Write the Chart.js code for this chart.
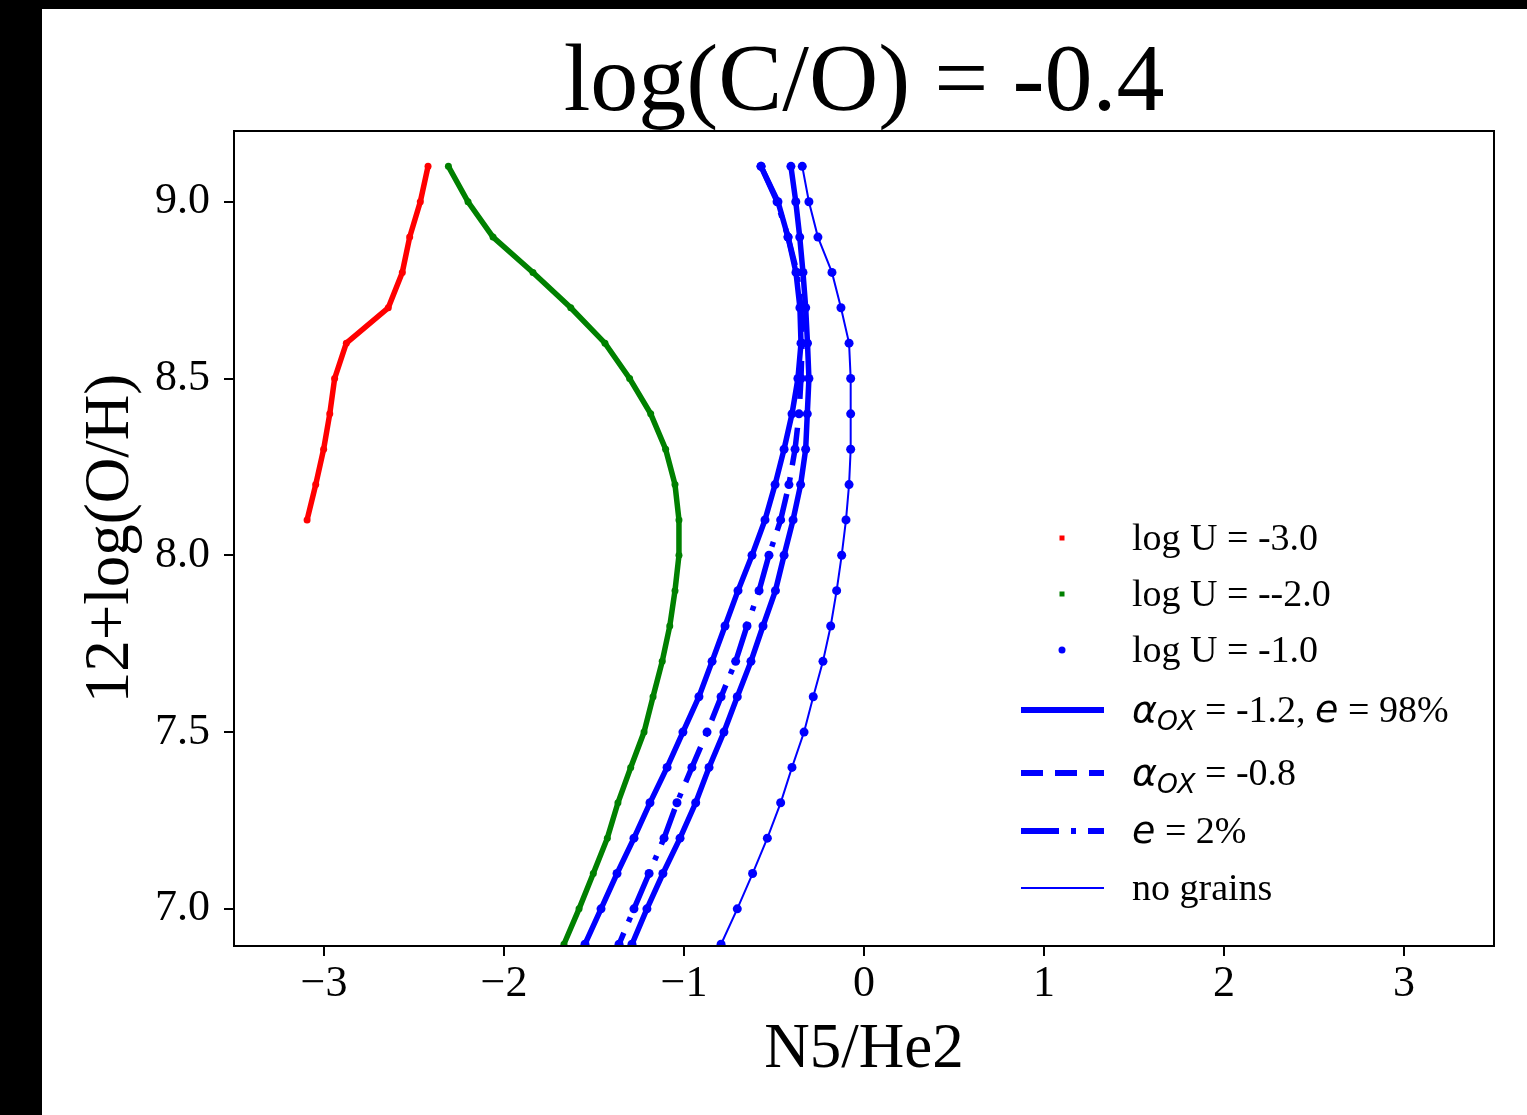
<!DOCTYPE html>
<html>
<head>
<meta charset="utf-8">
<script src="https://cdn.jsdelivr.net/npm/chart.js@4.4.0/dist/chart.umd.min.js"></script>
<style>
  html, body { margin: 0; padding: 0; background: #000; }
  #wrap { position: absolute; left: 42px; top: 9px; width: 1485px; height: 1106px; background: #fff; }
</style>
</head>
<body>
<div id="wrap"><canvas id="chart"></canvas></div>
<script>
// 12+log(O/H) grid of the models, top to bottom
const ohLevels = [9.1, 9.0, 8.9, 8.8, 8.7, 8.6, 8.5, 8.4, 8.3, 8.2, 8.1, 8.0,
                  7.9, 7.8, 7.7, 7.6, 7.5, 7.4, 7.3, 7.2, 7.1, 7.0, 6.9];

// N5/He2 values
const redX = [-2.422, -2.465, -2.524, -2.565, -2.643, -2.876, -2.941, -2.968, -3.002, -3.046, -3.094];
const greenX = [-2.309, -2.200, -2.061, -1.839, -1.629, -1.439, -1.302, -1.185, -1.102, -1.050, -1.028, -1.028,
                -1.050, -1.079, -1.121, -1.172, -1.222, -1.296, -1.367, -1.426, -1.504, -1.583, -1.667];
const blueSolidX = [-0.572, -0.478, -0.422, -0.378, -0.356, -0.350, -0.367, -0.400, -0.444, -0.494, -0.550, -0.622,
                    -0.700, -0.772, -0.844, -0.917, -1.006, -1.094, -1.189, -1.278, -1.372, -1.461, -1.550];
const blueDashDotX = [-0.572, -0.483, -0.422, -0.372, -0.350, -0.344, -0.350, -0.361, -0.383, -0.417, -0.463, -0.528,
                      -0.583, -0.650, -0.713, -0.794, -0.872, -0.956, -1.039, -1.111, -1.194, -1.278, -1.361];
const blueSolid2X = [-0.406, -0.379, -0.357, -0.339, -0.324, -0.314, -0.306, -0.315, -0.324, -0.352, -0.394, -0.444,
                     -0.492, -0.561, -0.628, -0.704, -0.778, -0.861, -0.935, -1.022, -1.117, -1.206, -1.289];
const blueThinX = [-0.343, -0.306, -0.256, -0.178, -0.128, -0.083, -0.074, -0.074, -0.074, -0.083, -0.100, -0.124,
                   -0.152, -0.185, -0.228, -0.282, -0.333, -0.400, -0.463, -0.537, -0.619, -0.704, -0.794];

const xTicks = [-3, -2, -1, 0, 1, 2, 3];
const yTicks = [7.0, 7.5, 8.0, 8.5, 9.0];

const chartTitle = 'log(C/O) = -0.4';
const xTitle = 'N5/He2';
const yTitle = '12+log(O/H)';

const markerLabels = ['log U = -3.0', 'log U = --2.0', 'log U = -1.0'];
const markerColors = ['#ff0000', '#008000', '#0000ff'];
// m = math (italic sans), sub = subscript
const lineLabels = [
  [{t: 'α', m: true}, {t: 'OX', m: true, sub: true}, {t: ' = -1.2, '}, {t: 'e', m: true}, {t: ' = 98%'}],
  [{t: 'α', m: true}, {t: 'OX', m: true, sub: true}, {t: ' = -0.8'}],
  [{t: 'e', m: true}, {t: ' = 2%'}],
  [{t: 'no grains'}]
];
const lineStyles = [
  {dash: [], width: 6},
  {dash: [22, 12], width: 6},
  {dash: [38, 12, 5, 12], width: 6},
  {dash: [], width: 2}
];

const SERIF = "'Liberation Serif', 'Times New Roman', serif";
const MATH = "'DejaVu Sans', sans-serif";

const pts = xs => xs.map((x, i) => ({x: x, y: ohLevels[i]}));

function series(xs, color, width, radius, dash) {
  return {
    data: pts(xs),
    showLine: true,
    borderColor: color,
    backgroundColor: color,
    borderWidth: width,
    borderDash: dash || [],
    borderCapStyle: 'butt',
    pointRadius: radius,
    pointBorderWidth: 0,
    pointBackgroundColor: color,
    tension: 0
  };
}

const datasets = [
  series(blueThinX, '#0000ff', 2, 4.5),
  series(blueSolid2X, '#0000ff', 5.5, 4.5),
  series(blueDashDotX, '#0000ff', 5.5, 4.5, [38, 12, 5, 12]),
  series(blueSolidX, '#0000ff', 5.5, 4.5),
  series(greenX, '#008000', 5.5, 3.5),
  series(redX, '#ff0000', 5.5, 3.5)
];

function drawRich(ctx, x, y, segs, size) {
  segs.forEach(s => {
    const fs = s.sub ? size * 0.7 : size;
    ctx.font = (s.m ? 'italic ' : '') + fs + 'px ' + (s.m ? MATH : SERIF);
    ctx.fillText(s.t, x, y + (s.sub ? size * 0.22 : 0));
    x += ctx.measureText(s.t).width;
  });
}

const framePlugin = {
  id: 'frameLegend',
  afterDraw(chart) {
    const {ctx, chartArea: a} = chart;
    ctx.save();
    ctx.strokeStyle = '#000';
    ctx.lineWidth = 2;
    ctx.strokeRect(a.left, a.top, a.right - a.left, a.bottom - a.top);

    ctx.fillStyle = '#000';
    ctx.font = '96px ' + SERIF;
    ctx.textAlign = 'center';
    ctx.textBaseline = 'alphabetic';
    ctx.fillText(chartTitle, (a.left + a.right) / 2, a.top - 21);

    // legend, placed from the lower right corner of the axes
    const rows = [408, 352, 296, 236, 173, 115, 58];
    const fs = 38;
    const textX = a.right - 362;
    ctx.textAlign = 'left';
    markerLabels.forEach((lab, i) => {
      const y = a.bottom - rows[i];
      const mx = a.right - 432;
      ctx.fillStyle = markerColors[i];
      if (i < 2) {
        ctx.fillRect(mx - 2.5, y - 2.5, 5, 5);
      } else {
        ctx.beginPath();
        ctx.arc(mx, y, 3.5, 0, Math.PI * 2);
        ctx.fill();
      }
      ctx.fillStyle = '#000';
      ctx.font = fs + 'px ' + SERIF;
      ctx.fillText(lab, textX, y + 12);
    });
    lineLabels.forEach((segs, i) => {
      const y = a.bottom - rows[i + 3];
      const st = lineStyles[i];
      ctx.strokeStyle = '#0000ff';
      ctx.lineWidth = st.width;
      ctx.lineCap = 'butt';
      ctx.setLineDash(st.dash);
      ctx.beginPath();
      ctx.moveTo(a.right - 473, y);
      ctx.lineTo(a.right - 390, y);
      ctx.stroke();
      ctx.setLineDash([]);
      ctx.fillStyle = '#000';
      drawRich(ctx, textX, y + 12, segs, fs);
    });
    ctx.restore();
  }
};

const tickFont = {family: SERIF, size: 44};
const titleFont = {family: SERIF, size: 63, lineHeight: 1.2};

new Chart(document.getElementById('chart'), {
  type: 'scatter',
  data: {datasets: datasets},
  options: {
    responsive: true,
    maintainAspectRatio: false,
    animation: false,
    events: [],
    layout: {padding: {left: 0, top: 122, right: 33, bottom: 0}},
    plugins: {
      legend: {display: false},
      tooltip: {enabled: false},
      title: {display: false}
    },
    scales: {
      x: {
        type: 'linear',
        position: 'bottom',
        min: -3.5,
        max: 3.5,
        afterBuildTicks: s => { s.ticks = xTicks.map(v => ({value: v})); },
        afterFit: s => { s.height = 169; },
        ticks: {
          font: tickFont, color: '#000', padding: 2, maxRotation: 0, autoSkip: false,
          callback: v => (v < 0 ? '\u2212' + Math.abs(v) : String(v))
        },
        grid: {drawOnChartArea: false, drawTicks: true, tickLength: 10, color: '#000', lineWidth: 2},
        border: {display: true, color: '#000', width: 2},
        title: {display: true, text: xTitle, font: titleFont, color: '#000', padding: {top: 0, bottom: 27}}
      },
      y: {
        type: 'linear',
        min: 6.895,
        max: 9.2,
        afterBuildTicks: s => { s.ticks = yTicks.map(v => ({value: v})); },
        afterFit: s => { s.width = 192; },
        ticks: {
          font: tickFont, color: '#000', padding: 14, autoSkip: false,
          callback: v => v.toFixed(1)
        },
        grid: {drawOnChartArea: false, drawTicks: true, tickLength: 10, color: '#000', lineWidth: 2},
        border: {display: true, color: '#000', width: 2},
        title: {display: true, text: yTitle, font: titleFont, color: '#000', padding: {top: 32, bottom: 0}}
      }
    }
  },
  plugins: [framePlugin]
});
</script>
</body>
</html>
